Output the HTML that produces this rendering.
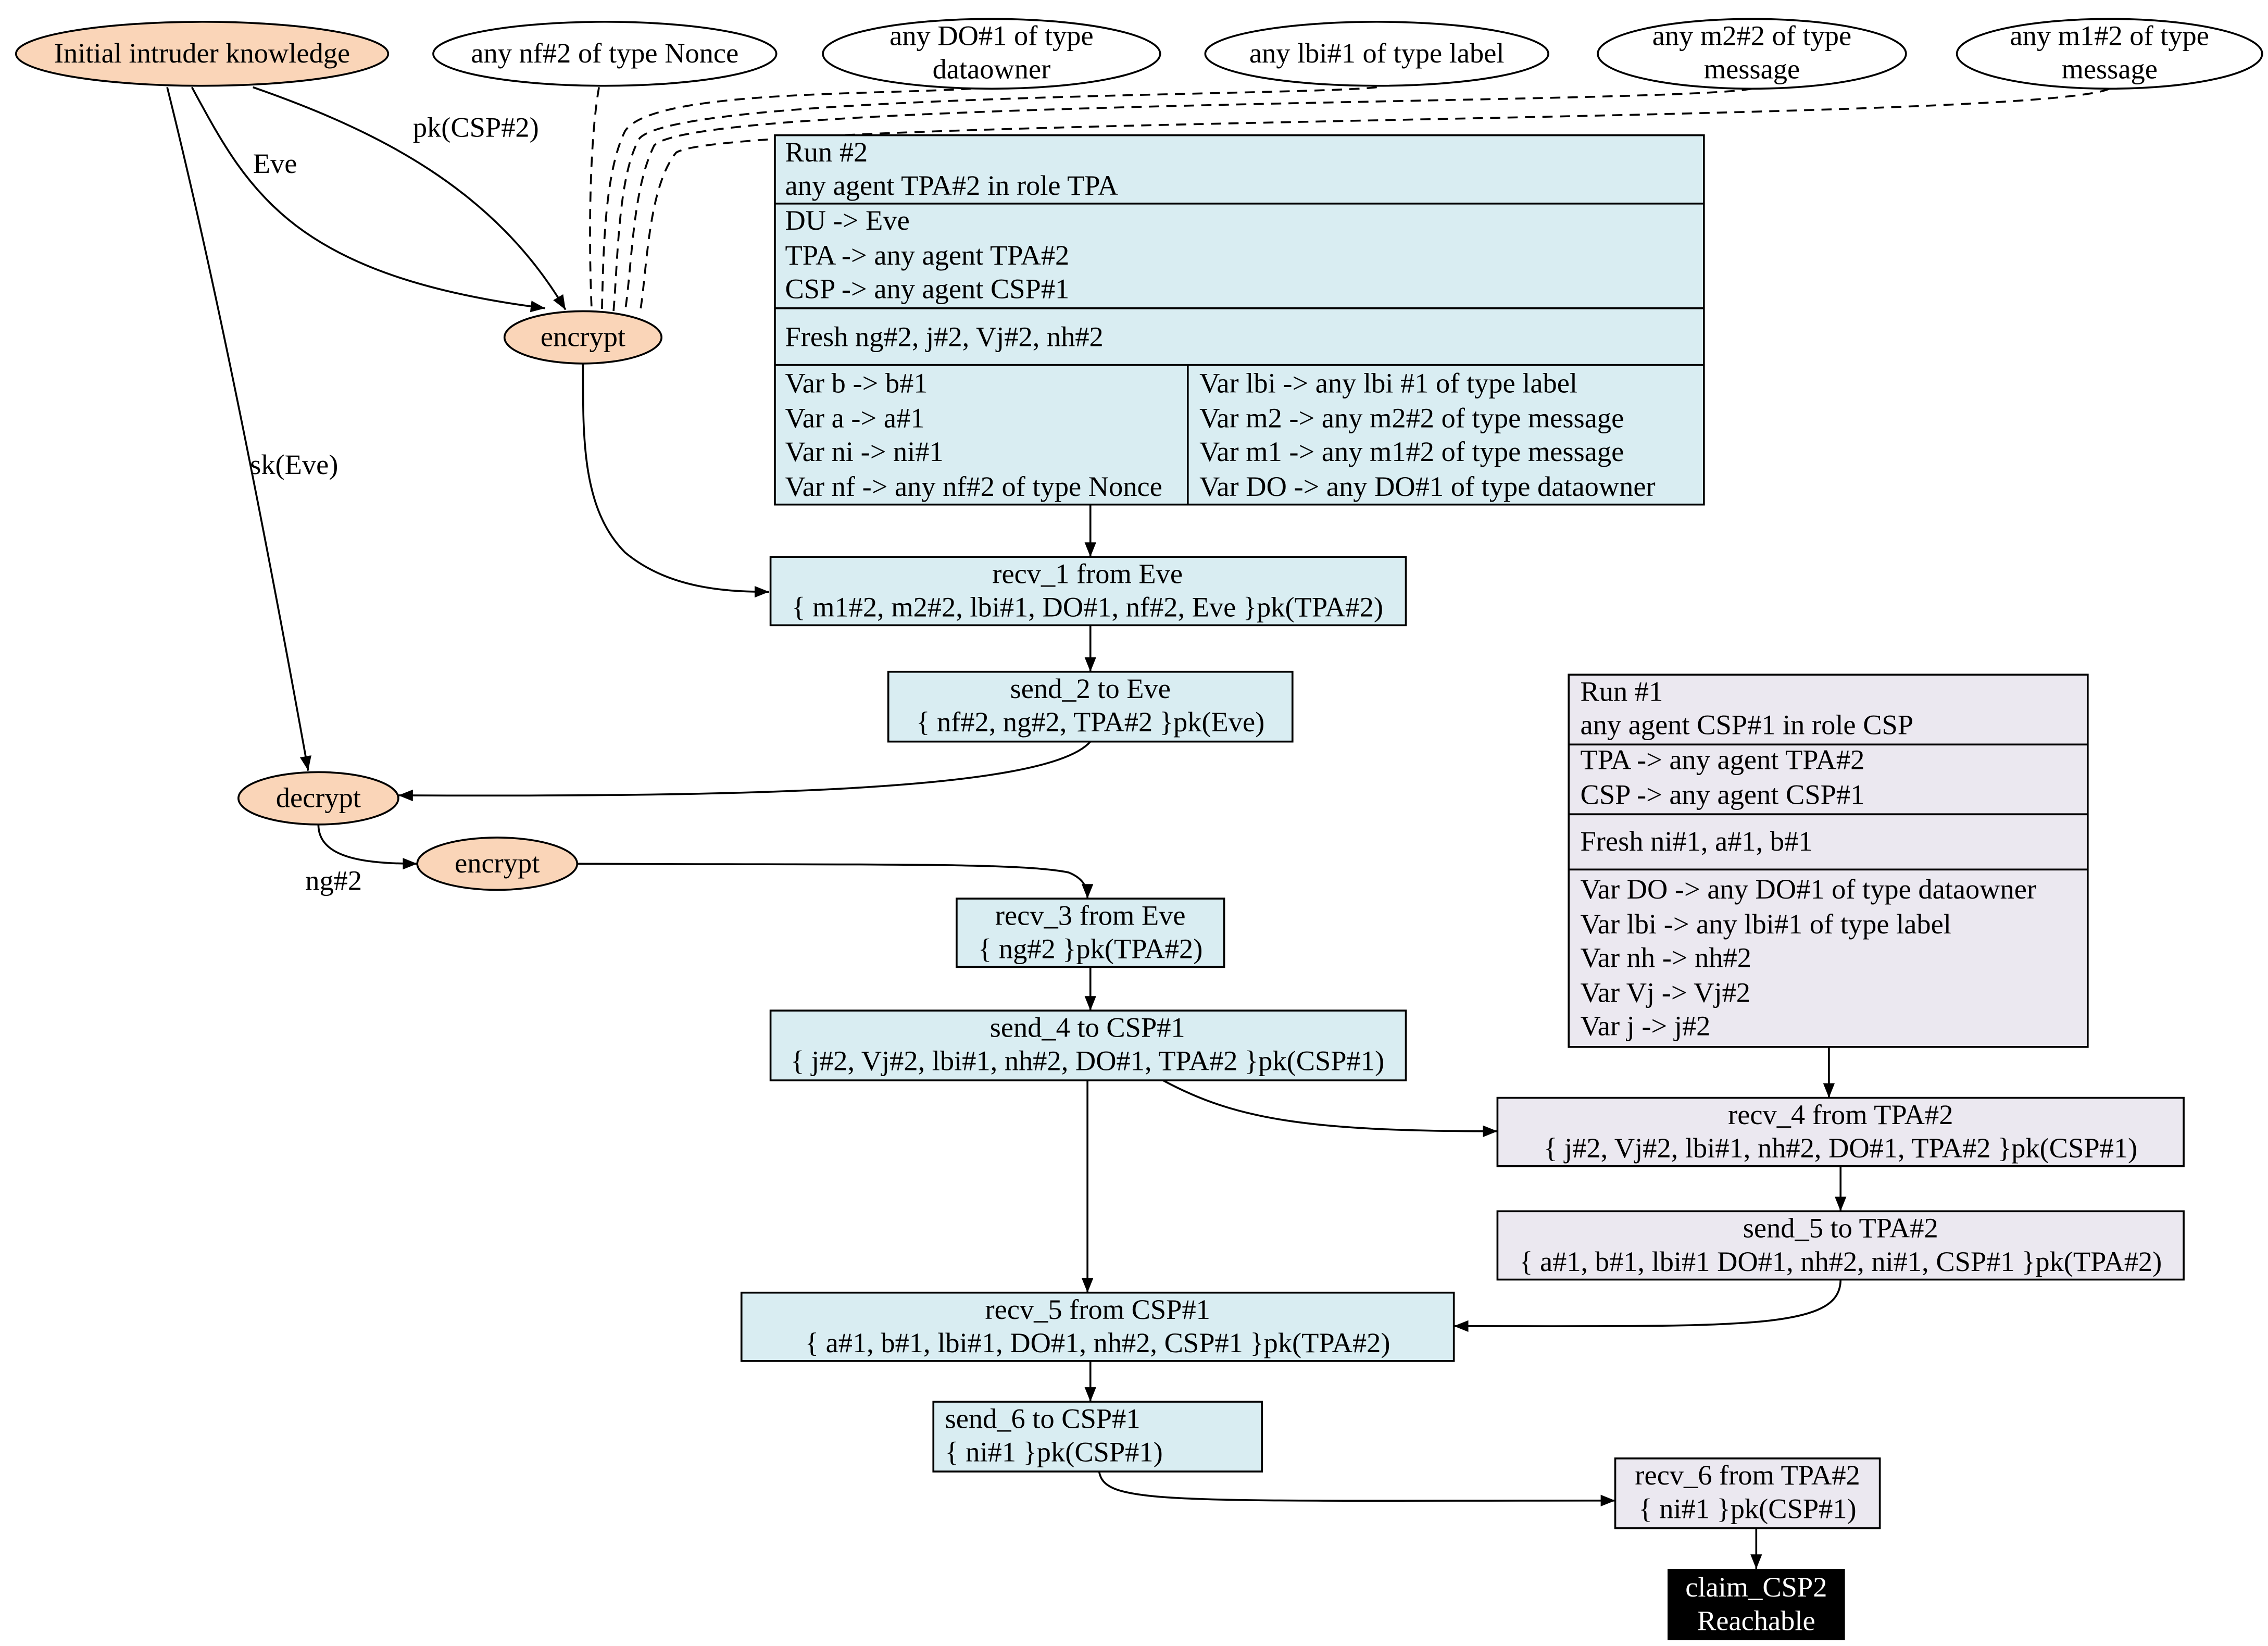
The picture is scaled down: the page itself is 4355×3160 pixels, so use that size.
<!DOCTYPE html>
<html><head><meta charset="utf-8"><style>
html,body{margin:0;padding:0;background:#fff;}
svg{display:block;}
text{font-family:"Liberation Serif",serif;font-size:19.5px;fill:#000;}
</style></head><body>
<svg width="4355" height="3160" viewBox="0 0 1560 1132" preserveAspectRatio="none" xmlns="http://www.w3.org/2000/svg">
<defs>
<marker id="a" viewBox="0 0 10 10" refX="10" refY="5" markerWidth="10" markerHeight="10" orient="auto" markerUnits="userSpaceOnUse"><path d="M0,1 L10,5 L0,9 z" fill="#000"/></marker>
</defs>
<rect width="1560" height="1132" fill="#fff"/>
<g fill="none" stroke="#000" stroke-width="1.3">
<path d="M174,60 C260,90 340,130 389,213" marker-end="url(#a)"/>
<path d="M132,60 C170,130 200,190 375,212" marker-end="url(#a)"/>
<path d="M115,60 C150,200 185,380 212,530" marker-end="url(#a)"/>
<g stroke-dasharray="7,5">
<path d="M412,60 C405,100 405,170 407,214"/>
<path d="M680,60 C620,66 450,60 430,90 C415,120 415,180 414,214"/>
<path d="M947,60 C900,66 470,64 440,95 C425,120 425,180 422,214"/>
<path d="M1205,61 C1150,72 480,68 450,100 C435,130 435,180 430,214"/>
<path d="M1451,61 C1400,85 500,80 465,105 C445,130 445,190 440,216"/>
</g>
<path d="M401,250 C401,300 400,350 430,380 C460,405 500,407 529,407" marker-end="url(#a)"/>
<path d="M750,347 L750,383" marker-end="url(#a)"/>
<path d="M750,430 L750,462" marker-end="url(#a)"/>
<path d="M750,510 C720,545 500,548 274,547" marker-end="url(#a)"/>
<path d="M219,567 C219,590 250,594 287,594" marker-end="url(#a)"/>
<path d="M397,594 C600,595 700,593 735,600 C745,604 748,610 748,618" marker-end="url(#a)"/>
<path d="M750,665 L750,695" marker-end="url(#a)"/>
<path d="M748,743 L748,889" marker-end="url(#a)"/>
<path d="M800,743 C850,770 900,778 1030,778" marker-end="url(#a)"/>
<path d="M1258,720 L1258,755" marker-end="url(#a)"/>
<path d="M1266,802 L1266,833" marker-end="url(#a)"/>
<path d="M1266,880 C1266,915 1200,912 1000,912" marker-end="url(#a)"/>
<path d="M750,936 L750,964" marker-end="url(#a)"/>
<path d="M756,1012 C760,1035 800,1032 1111,1032" marker-end="url(#a)"/>
<path d="M1208,1051 L1208,1079" marker-end="url(#a)"/>
</g>
<text x="284" y="94">pk(CSP#2)</text>
<text x="174" y="119">Eve</text>
<text x="172" y="326">sk(Eve)</text>
<text x="210" y="612">ng#2</text>
<g stroke="#000" stroke-width="1.3">
<ellipse cx="139" cy="37" rx="128" ry="22" fill="#fad5b8"/>
<ellipse cx="416" cy="37" rx="118" ry="22" fill="#fff"/>
<ellipse cx="682" cy="37" rx="116" ry="24" fill="#fff"/>
<ellipse cx="947" cy="37" rx="118" ry="22" fill="#fff"/>
<ellipse cx="1205" cy="37" rx="106" ry="24" fill="#fff"/>
<ellipse cx="1451" cy="37" rx="105" ry="24" fill="#fff"/>
<ellipse cx="401" cy="232" rx="54" ry="18" fill="#fad5b8"/>
<ellipse cx="219" cy="549" rx="55" ry="18" fill="#fad5b8"/>
<ellipse cx="342" cy="594" rx="55" ry="18" fill="#fad5b8"/>
</g>
<g text-anchor="middle">
<text x="139" y="43">Initial intruder knowledge</text>
<text x="416" y="43">any nf#2 of type Nonce</text>
<text x="682" y="31">any DO#1 of type</text><text x="682" y="54">dataowner</text>
<text x="947" y="43">any lbi#1 of type label</text>
<text x="1205" y="31">any m2#2 of type</text><text x="1205" y="54">message</text>
<text x="1451" y="31">any m1#2 of type</text><text x="1451" y="54">message</text>
<text x="401" y="238">encrypt</text>
<text x="219" y="555">decrypt</text>
<text x="342" y="600">encrypt</text>
</g>
<g stroke="#000" stroke-width="1.3" fill="#d9edf2">
<rect x="533" y="93" width="639" height="254"/>
<rect x="530" y="383" width="437" height="47"/>
<rect x="611" y="462" width="278" height="48"/>
<rect x="658" y="618" width="184" height="47"/>
<rect x="530" y="695" width="437" height="48"/>
<rect x="510" y="889" width="490" height="47"/>
<rect x="642" y="964" width="226" height="48"/>
</g>
<g stroke="#000" stroke-width="1.3">
<line x1="533" y1="140" x2="1172" y2="140"/>
<line x1="533" y1="212" x2="1172" y2="212"/>
<line x1="533" y1="251" x2="1172" y2="251"/>
<line x1="817" y1="251" x2="817" y2="347"/>
</g>
<text x="540" y="111">Run #2</text>
<text x="540" y="134">any agent TPA#2 in role TPA</text>
<text x="540" y="158">DU -&gt; Eve</text>
<text x="540" y="182">TPA -&gt; any agent TPA#2</text>
<text x="540" y="205">CSP -&gt; any agent CSP#1</text>
<text x="540" y="238">Fresh ng#2, j#2, Vj#2, nh#2</text>
<text x="540" y="270">Var b -&gt; b#1</text>
<text x="540" y="294">Var a -&gt; a#1</text>
<text x="540" y="317">Var ni -&gt; ni#1</text>
<text x="540" y="341">Var nf -&gt; any nf#2 of type Nonce</text>
<text x="825" y="270">Var lbi -&gt; any lbi #1 of type label</text>
<text x="825" y="294">Var m2 -&gt; any m2#2 of type message</text>
<text x="825" y="317">Var m1 -&gt; any m1#2 of type message</text>
<text x="825" y="341">Var DO -&gt; any DO#1 of type dataowner</text>
<g text-anchor="middle">
<text x="748" y="401">recv_1 from Eve</text>
<text x="748" y="424">{ m1#2, m2#2, lbi#1, DO#1, nf#2, Eve }pk(TPA#2)</text>
<text x="750" y="480">send_2 to Eve</text>
<text x="750" y="503">{ nf#2, ng#2, TPA#2 }pk(Eve)</text>
<text x="750" y="636">recv_3 from Eve</text>
<text x="750" y="659">{ ng#2 }pk(TPA#2)</text>
<text x="748" y="713">send_4 to CSP#1</text>
<text x="748" y="736">{ j#2, Vj#2, lbi#1, nh#2, DO#1, TPA#2 }pk(CSP#1)</text>
<text x="755" y="907">recv_5 from CSP#1</text>
<text x="755" y="930">{ a#1, b#1, lbi#1, DO#1, nh#2, CSP#1 }pk(TPA#2)</text>
</g>
<text x="650" y="982">send_6 to CSP#1</text>
<text x="650" y="1005">{ ni#1 }pk(CSP#1)</text>
<g stroke="#000" stroke-width="1.3" fill="#ebe8f0">
<rect x="1079" y="464" width="357" height="256"/>
<rect x="1030" y="755" width="472" height="47"/>
<rect x="1030" y="833" width="472" height="47"/>
<rect x="1111" y="1003" width="182" height="48"/>
</g>
<g stroke="#000" stroke-width="1.3">
<line x1="1079" y1="512" x2="1436" y2="512"/>
<line x1="1079" y1="560" x2="1436" y2="560"/>
<line x1="1079" y1="598" x2="1436" y2="598"/>
</g>
<text x="1087" y="482">Run #1</text>
<text x="1087" y="505">any agent CSP#1 in role CSP</text>
<text x="1087" y="529">TPA -&gt; any agent TPA#2</text>
<text x="1087" y="553">CSP -&gt; any agent CSP#1</text>
<text x="1087" y="585">Fresh ni#1, a#1, b#1</text>
<text x="1087" y="618">Var DO -&gt; any DO#1 of type dataowner</text>
<text x="1087" y="642">Var lbi -&gt; any lbi#1 of type label</text>
<text x="1087" y="665">Var nh -&gt; nh#2</text>
<text x="1087" y="689">Var Vj -&gt; Vj#2</text>
<text x="1087" y="712">Var j -&gt; j#2</text>
<g text-anchor="middle">
<text x="1266" y="773">recv_4 from TPA#2</text>
<text x="1266" y="796">{ j#2, Vj#2, lbi#1, nh#2, DO#1, TPA#2 }pk(CSP#1)</text>
<text x="1266" y="851">send_5 to TPA#2</text>
<text x="1266" y="874">{ a#1, b#1, lbi#1 DO#1, nh#2, ni#1, CSP#1 }pk(TPA#2)</text>
<text x="1202" y="1021">recv_6 from TPA#2</text>
<text x="1202" y="1044">{ ni#1 }pk(CSP#1)</text>
</g>
<rect x="1147" y="1079" width="122" height="49" fill="#000"/>
<g text-anchor="middle">
<text x="1208" y="1098" style="fill:#fff">claim_CSP2</text>
<text x="1208" y="1121" style="fill:#fff">Reachable</text>
</g>
</svg>
</body></html>
